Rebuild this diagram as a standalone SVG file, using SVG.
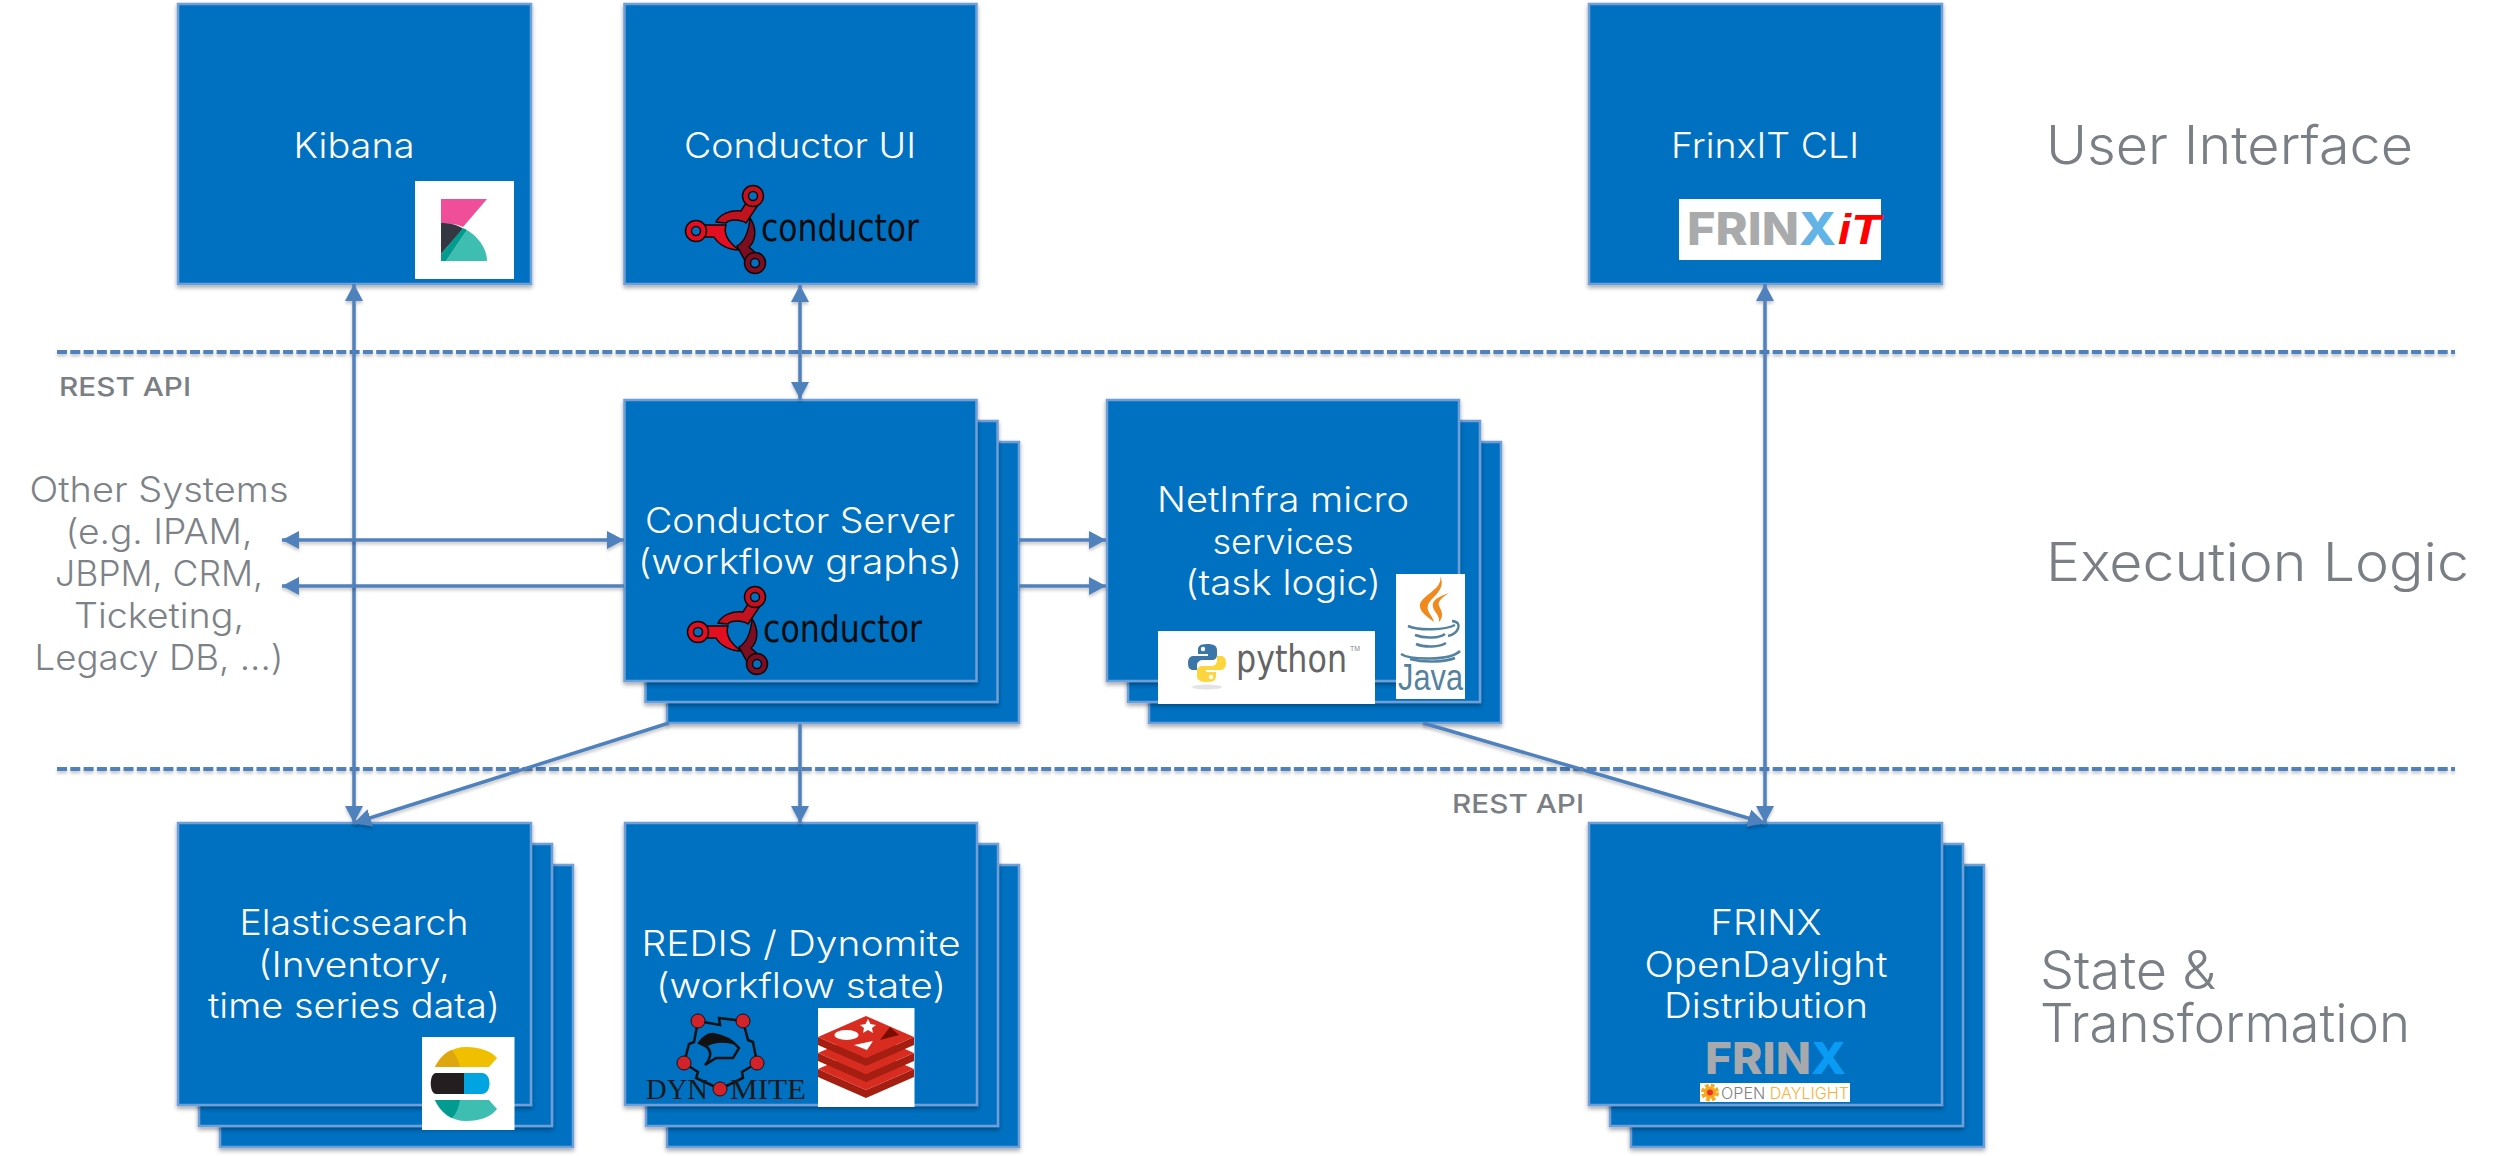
<svg xmlns="http://www.w3.org/2000/svg" xmlns:xlink="http://www.w3.org/1999/xlink" width="2500" height="1156" viewBox="0 0 2500 1156">
<style>
text{font-family:"Inter","Liberation Sans",sans-serif;font-weight:300}
.box{fill:#0170c1;stroke:#6f9fd8;stroke-width:2.5;filter:url(#sh)}
.t{fill:#fff;font-size:35px;text-anchor:middle}
.o{fill:#7d8288;font-size:35px;text-anchor:middle}
.h{fill:#7a7f85;font-size:53px}
.r{fill:#7a7f85;font-size:26px;font-weight:500}
.w{fill:#fff}
.l{fill:none;stroke:#4f81bd;stroke-width:3.5}
.d{fill:none;stroke:#4f81bd;stroke-width:4;stroke-dasharray:10 3.3}
.c{font-family:"DejaVu Sans",sans-serif;font-weight:400;font-size:38px;fill:#0b0b0b}
.b{font-family:"Inter","Liberation Sans",sans-serif;font-weight:800}
</style>
<defs>
<filter id="sh" filterUnits="userSpaceOnUse" x="0" y="0" width="2500" height="1156"><feDropShadow dx="0" dy="2.5" stdDeviation="2" flood-color="#000" flood-opacity="0.35"/></filter>
<filter id="ls" filterUnits="userSpaceOnUse" x="0" y="0" width="2500" height="1156"><feDropShadow dx="0" dy="2.5" stdDeviation="1.5" flood-color="#000" flood-opacity="0.22"/></filter>
<marker id="a" markerUnits="userSpaceOnUse" markerWidth="20" markerHeight="20" refX="17" refY="9" orient="auto-start-reverse"><path d="M0 0L17 9L0 18Z" fill="#4f81bd"/></marker>
<g id="cond-icon" stroke="#140606" stroke-width="1.5">
<path d="M718 623C722 615 732 611 743 612L750 601L760 606L748 624C742 620 731 620 728 624Z" fill="#c1121f"/>
<circle cx="755" cy="597" r="10.5" fill="#c1121f"/><circle cx="755" cy="597" r="4.5" fill="#0170c1"/>
<path d="M704 626H728C725 635 730 643 741 651C730 651 720 645 716 638H704Z" fill="#e30e1f"/>
<circle cx="698" cy="632" r="10.5" fill="#e30e1f"/><circle cx="698" cy="632" r="4.5" fill="#0170c1"/>
<path d="M752 619C759 629 758 642 751 648L762 658L751 669L739 647C748 642 751 630 752 619Z" fill="#7a0f22"/>
<circle cx="757" cy="664" r="10.5" fill="#7a0f22"/><circle cx="757" cy="664" r="4.5" fill="#0170c1"/>
</g>
<path id="py" d="M20 2C12 2 11 5 11 8V12H21V14H6C3 14 1 17 1 21C1 26 3 28 6 28H10V23C10 20 13 18 16 18H25C28 18 30 16 30 13V8C30 4 27 2 20 2Z"/>
</defs>
<rect width="2500" height="1156" fill="#fff"/>

<g id="dividers">
<path class="d" filter="url(#ls)" d="M57 352H2455"/>
<path class="d" filter="url(#ls)" d="M57 769H2455"/>
</g>

<g id="node-kibana">
<rect class="box" x="178" y="4" width="353" height="280"/>
<text class="t" x="354" y="158" textLength="121" lengthAdjust="spacingAndGlyphs">Kibana</text>
<rect class="w" x="415" y="181" width="99" height="98"/>
<path d="M441 199H487L463 227C457 224 449 223 441 223Z" fill="#f04e98"/>
<path d="M441 223C449 223 457 224 463 229L441 254Z" fill="#343741"/>
<path d="M446 261H487C487 250 480 238 467 230Z" fill="#3ebeb0"/>
<path d="M441 254L463 228L467 230L446 261H441Z" fill="#019b8f"/>
</g>

<g id="node-conductor-ui">
<rect class="box" x="624.500" y="4" width="352" height="280"/>
<text class="t" x="800" y="158" textLength="232" lengthAdjust="spacingAndGlyphs">Conductor UI</text>
<use href="#cond-icon" transform="translate(-2 -401)"/>
<text class="c" x="761" y="241" textLength="158" lengthAdjust="spacingAndGlyphs">conductor</text>
</g>

<g id="node-frinxit-cli">
<rect class="box" x="1589" y="4" width="353" height="280"/>
<text class="t" x="1765" y="158" textLength="188" lengthAdjust="spacingAndGlyphs">FrinxIT CLI</text>
<rect class="w" x="1679" y="199" width="202" height="61"/>
<text class="b" x="1687" y="245" font-size="45" textLength="149" lengthAdjust="spacingAndGlyphs" fill="#a9aaab">FRIN<tspan fill="#62b3e6">X</tspan></text>
<text x="1838" y="244" font-size="42" textLength="42" lengthAdjust="spacingAndGlyphs" style="font-family:'Liberation Sans',sans-serif;font-weight:700;font-style:italic" fill="#f00">iT</text>
</g>

<g id="node-conductor-server">
<rect class="box" x="667" y="442" width="352" height="281"/>
<rect class="box" x="645.500" y="421" width="352" height="281"/>
<rect class="box" x="624.500" y="400" width="352" height="281"/>
<text class="t" x="800" y="533" textLength="310" lengthAdjust="spacingAndGlyphs">Conductor Server</text>
<text class="t" x="800" y="574" textLength="324" lengthAdjust="spacingAndGlyphs">(workflow graphs)</text>
<use href="#cond-icon"/>
<text class="c" x="763" y="642" textLength="159" lengthAdjust="spacingAndGlyphs">conductor</text>
</g>

<g id="node-netinfra">
<rect class="box" x="1149" y="442" width="352" height="281"/>
<rect class="box" x="1128" y="421" width="352" height="281"/>
<rect class="box" x="1107" y="400" width="352" height="281"/>
<text class="t" x="1283" y="512" textLength="252" lengthAdjust="spacingAndGlyphs">NetInfra micro</text>
<text class="t" x="1283" y="554" textLength="141" lengthAdjust="spacingAndGlyphs">services</text>
<text class="t" x="1283" y="595" textLength="196" lengthAdjust="spacingAndGlyphs">(task logic)</text>
<rect class="w" x="1158" y="631" width="217" height="73"/>
<ellipse cx="1207" cy="687" rx="15" ry="2.500" fill="#e4e4e4"/>
<g transform="translate(1187 642)">
<use href="#py" fill="#3a76a8"/><circle cx="16" cy="7" r="2.200" fill="#fff"/>
<use href="#py" fill="#fdd63f" transform="rotate(180 20 21)"/><circle cx="24" cy="35" r="2.200" fill="#fff"/>
</g>
<text x="1236" y="672" font-size="37" textLength="111" lengthAdjust="spacingAndGlyphs" fill="#646464" style="font-family:'DejaVu Sans',sans-serif;font-weight:400">python</text>
<text x="1350" y="651" font-size="7" fill="#8a8a8a" style="font-family:'Liberation Sans',sans-serif">TM</text>
<rect class="w" x="1396" y="574" width="69" height="125"/>
<path d="M1440 576C1444 590 1418 596 1420 607C1421 613 1428 617 1434 622C1432 614 1426 612 1428 605C1431 597 1447 590 1440 576Z" fill="#f08a1d"/>
<path d="M1449 593C1440 596 1431 600 1433 607C1434 612 1440 615 1439 622C1444 617 1442 611 1439 606C1437 601 1443 597 1449 593Z" fill="#f08a1d"/>
<g fill="none" stroke="#5382a1" stroke-width="2.500">
<path d="M1408 626C1420 631 1445 630 1455 625"/><path d="M1452 621C1464 622 1458 634 1448 636"/>
<path d="M1415 635C1425 639 1440 638 1445 634"/><path d="M1416 644C1425 648 1440 647 1446 643"/>
<path d="M1401 654C1410 660 1450 661 1460 651"/><path d="M1410 659C1425 663 1445 662 1455 658"/>
</g>
<text x="1398" y="690" font-size="36" textLength="65" lengthAdjust="spacingAndGlyphs" fill="#5382a1" style="font-family:'Liberation Sans',sans-serif;font-weight:400">Java</text>
</g>

<g id="node-elasticsearch">
<rect class="box" x="220" y="865" width="353" height="282"/>
<rect class="box" x="199" y="844" width="353" height="282"/>
<rect class="box" x="178" y="823" width="353" height="282"/>
<text class="t" x="354" y="935" textLength="229" lengthAdjust="spacingAndGlyphs">Elasticsearch</text>
<text class="t" x="354" y="977" textLength="192" lengthAdjust="spacingAndGlyphs">(Inventory,</text>
<text class="t" x="354" y="1018" textLength="292" lengthAdjust="spacingAndGlyphs">time series data)</text>
<rect class="w" x="422" y="1037" width="92.500" height="93"/>
<path d="M435 1067C440 1055 452 1047 466 1047C480 1047 491 1051 497 1058L489 1067Z" fill="#f0bf00"/>
<path d="M435 1067C440 1058 445 1052 452 1050C456 1055 459 1061 460 1067Z" fill="#dfa70f"/>
<path d="M436 1073H464V1094H436C429 1094 429 1073 436 1073Z" fill="#231f20"/>
<path d="M464 1073H482C492 1073 492 1094 482 1094H464Z" fill="#00a4e0"/>
<path d="M435 1100H489L497 1109C491 1117 480 1121 466 1121C452 1121 440 1113 435 1100Z" fill="#3ebeb0"/>
<path d="M435 1100H460C459 1107 456 1114 452 1118C445 1115 439 1108 435 1100Z" fill="#019b8f"/>
</g>

<g id="node-redis-dynomite">
<rect class="box" x="667" y="865" width="352" height="282"/>
<rect class="box" x="646" y="844" width="352" height="282"/>
<rect class="box" x="625" y="823" width="352" height="282"/>
<text class="t" x="801" y="956" textLength="319" lengthAdjust="spacingAndGlyphs">REDIS / Dynomite</text>
<text class="t" x="801" y="998" textLength="290" lengthAdjust="spacingAndGlyphs">(workflow state)</text>
<g fill="none" stroke="#111" stroke-width="2.500">
<path d="M698 1021L720 1025L719 1018L743 1021"/>
<path d="M743 1021L748 1040L753 1042L757 1063"/>
<path d="M698 1021L694 1042L689 1044L684 1063"/>
<path d="M684 1063L698 1072L696 1078L720 1089"/>
<path d="M757 1063L742 1072L743 1078L720 1089"/>
<path d="M699 1043C704 1036 709 1034 713 1034C726 1036 734 1042 739 1048L733 1058H716L705 1065C711 1058 712 1052 707 1047Z" fill="#0170c1"/>
</g>
<path d="M700 1043C704 1036 709 1034 713 1034C722 1035 730 1040 735 1045C726 1042 716 1042 708 1046Z" fill="#111"/>
<g fill="#d2232a" stroke="#111" stroke-width="1">
<circle cx="698" cy="1021" r="7"/><circle cx="743" cy="1021" r="7"/><circle cx="684" cy="1063" r="7"/><circle cx="757" cy="1063" r="7"/>
</g>
<text x="646" y="1099" font-size="29" textLength="62" lengthAdjust="spacingAndGlyphs" fill="#1a1a1a" style="font-family:'Liberation Serif',serif;font-weight:400">DYN</text>
<text x="730" y="1099" font-size="29" textLength="76" lengthAdjust="spacingAndGlyphs" fill="#1a1a1a" style="font-family:'Liberation Serif',serif;font-weight:400">MITE</text>
<circle cx="720" cy="1089" r="7" fill="#d2232a" stroke="#111"/>
<rect class="w" x="818" y="1008" width="96.500" height="99"/>
<path d="M818 1069V1077L866 1098L914 1077V1069L866 1090Z" fill="#a41e11"/>
<path d="M866 1048L914 1069L866 1090L818 1069Z" fill="#d82c20"/>
<path d="M818 1053V1061L866 1082L914 1061V1053L866 1074Z" fill="#a41e11"/>
<path d="M866 1032L914 1053L866 1074L818 1053Z" fill="#d82c20"/>
<path d="M818 1037V1045L866 1066L914 1045V1037L866 1058Z" fill="#a41e11"/>
<path d="M866 1016L914 1037L866 1058L818 1037Z" fill="#d82c20"/>
<path d="M868 1019L870.500 1024L876 1025L872 1028L873 1033L868 1030L863 1033L864 1028L860 1025L865.500 1024Z" fill="#fff"/>
<ellipse cx="846.500" cy="1035" rx="12" ry="5" fill="#fff"/>
<path d="M854 1045L873 1041L867 1050Z" fill="#fff"/>
<path d="M890 1027L899 1035L880 1040Z" fill="#7a0c00"/>
</g>

<g id="node-frinx-odl">
<rect class="box" x="1631" y="865" width="353" height="282"/>
<rect class="box" x="1610" y="844" width="353" height="282"/>
<rect class="box" x="1589" y="823" width="353" height="282"/>
<text class="t" x="1766" y="935" textLength="111" lengthAdjust="spacingAndGlyphs">FRINX</text>
<text class="t" x="1766" y="977" textLength="243" lengthAdjust="spacingAndGlyphs">OpenDaylight</text>
<text class="t" x="1766" y="1018" textLength="204" lengthAdjust="spacingAndGlyphs">Distribution</text>
<text class="b" x="1705" y="1074" font-size="44" textLength="141" lengthAdjust="spacingAndGlyphs" fill="#a7a9ac">FRIN<tspan fill="#0a9cf5">X</tspan></text>
<rect class="w" x="1700" y="1083" width="150" height="19"/>
<circle cx="1710" cy="1092.500" r="6" fill="#f7a81b" stroke="#f7a81b" stroke-width="6" stroke-dasharray="3 1.700"/>
<circle cx="1710" cy="1092.500" r="3" fill="#e8352a"/>
<text x="1721" y="1099" font-size="15.500" textLength="128" lengthAdjust="spacingAndGlyphs" fill="#808285">OPEN <tspan fill="#fbb03b">DAYLIGHT</tspan></text>
</g>

<g id="connectors" class="conn">
<path class="l" filter="url(#ls)" d="M354 284V823" marker-start="url(#a)" marker-end="url(#a)"/>
<path class="l" filter="url(#ls)" d="M800 285V399" marker-start="url(#a)" marker-end="url(#a)"/>
<path class="l" filter="url(#ls)" d="M1765 284V823" marker-start="url(#a)" marker-end="url(#a)"/>
<path class="l" filter="url(#ls)" d="M282 540H624" marker-start="url(#a)" marker-end="url(#a)"/>
<path class="l" filter="url(#ls)" d="M624 586H282" marker-end="url(#a)"/>
<path class="l" filter="url(#ls)" d="M1019 540H1106" marker-end="url(#a)"/>
<path class="l" filter="url(#ls)" d="M1019 586H1106" marker-end="url(#a)"/>
<path class="l" filter="url(#ls)" d="M669 723L354 823" marker-end="url(#a)"/>
<path class="l" filter="url(#ls)" d="M800 724V823" marker-end="url(#a)"/>
<path class="l" filter="url(#ls)" d="M1423 723L1765 823" marker-end="url(#a)"/>
</g>

<g id="labels">
<text class="r" x="59" y="396" textLength="132" lengthAdjust="spacingAndGlyphs">REST API</text>
<text class="r" x="1452" y="813" textLength="132" lengthAdjust="spacingAndGlyphs">REST API</text>
<text class="o" x="159" y="502" textLength="259" lengthAdjust="spacingAndGlyphs">Other Systems</text>
<text class="o" x="159" y="544" textLength="187" lengthAdjust="spacingAndGlyphs">(e.g. IPAM,</text>
<text class="o" x="159" y="586" textLength="208" lengthAdjust="spacingAndGlyphs">JBPM, CRM,</text>
<text class="o" x="159" y="628" textLength="170" lengthAdjust="spacingAndGlyphs">Ticketing,</text>
<text class="o" x="159" y="670" textLength="249" lengthAdjust="spacingAndGlyphs">Legacy DB, ...)</text>
<text class="h" x="2046" y="164" textLength="367" lengthAdjust="spacingAndGlyphs">User Interface</text>
<text class="h" x="2046" y="581" textLength="423" lengthAdjust="spacingAndGlyphs">Execution Logic</text>
<text class="h" x="2040" y="989" textLength="176" lengthAdjust="spacingAndGlyphs">State &amp;</text>
<text class="h" x="2040" y="1042" textLength="370" lengthAdjust="spacingAndGlyphs">Transformation</text>
</g>
</svg>
